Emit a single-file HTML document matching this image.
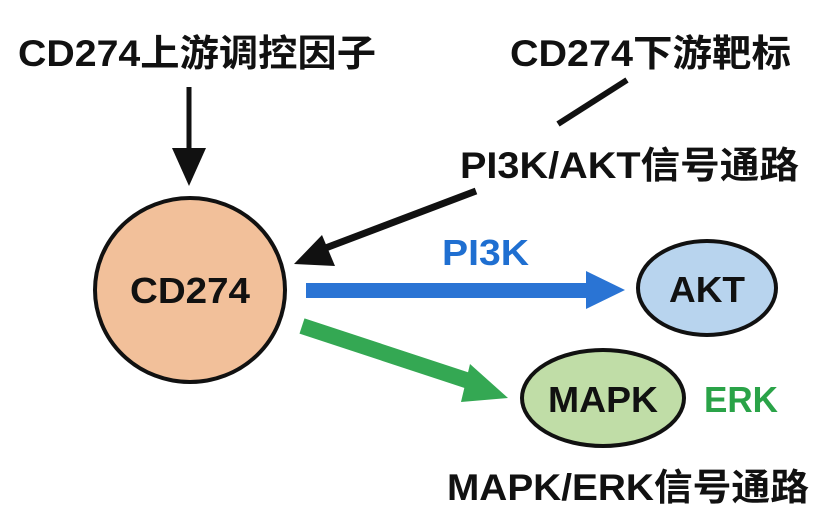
<!DOCTYPE html>
<html><head><meta charset="utf-8"><style>
html,body{margin:0;padding:0;background:#fff;}
svg{display:block;}
text{font-family:"Liberation Sans","Noto Sans CJK SC",sans-serif;font-weight:bold;}
</style></head><body>
<svg width="829" height="525" viewBox="0 0 829 525" xmlns="http://www.w3.org/2000/svg">
<rect width="829" height="525" fill="#fff"/>
<text x="18" y="66" font-size="37" textLength="358" lengthAdjust="spacingAndGlyphs" fill="#111">CD274上游调控因子</text>
<text x="510" y="66" font-size="37" textLength="281" lengthAdjust="spacingAndGlyphs" fill="#111">CD274下游靶标</text>
<line x1="627" y1="80" x2="558" y2="124" stroke="#111" stroke-width="6"/>
<text x="460" y="178" font-size="37" textLength="339" lengthAdjust="spacingAndGlyphs" fill="#111">PI3K/AKT信号通路</text>
<!-- down arrow -->
<line x1="189" y1="87" x2="189" y2="152" stroke="#111" stroke-width="5"/>
<polygon points="172,148 206,148 189,186" fill="#111"/>
<!-- diagonal black arrow -->
<line x1="476" y1="191" x2="315" y2="252" stroke="#111" stroke-width="7"/>
<polygon points="294,264 322,235 335,266" fill="#111"/>
<!-- CD274 -->
<ellipse cx="190" cy="290" rx="95" ry="92" fill="#f2c09a" stroke="#111" stroke-width="4"/>
<text x="190" y="303" font-size="36" text-anchor="middle" textLength="120" lengthAdjust="spacingAndGlyphs" fill="#111">CD274</text>
<!-- PI3K label -->
<text x="442" y="265" font-size="36" textLength="87" lengthAdjust="spacingAndGlyphs" fill="#1f6fd1">PI3K</text>
<!-- blue arrow -->
<rect x="306" y="283" width="284" height="15" fill="#2a74d4"/>
<polygon points="586,271 625,290 586,309" fill="#2a74d4"/>
<!-- AKT -->
<ellipse cx="707" cy="288" rx="69" ry="47" fill="#b8d4ee" stroke="#111" stroke-width="4"/>
<text x="707" y="302" font-size="36" text-anchor="middle" textLength="76" lengthAdjust="spacingAndGlyphs" fill="#111">AKT</text>
<!-- green arrow -->
<line x1="302" y1="326" x2="475" y2="383" stroke="#34a853" stroke-width="16"/>
<polygon points="470,364 508,398 461,402" fill="#34a853"/>
<!-- MAPK -->
<ellipse cx="603" cy="398" rx="81" ry="48" fill="#c0dda7" stroke="#111" stroke-width="4"/>
<text x="603" y="412" font-size="36" text-anchor="middle" textLength="110" lengthAdjust="spacingAndGlyphs" fill="#111">MAPK</text>
<text x="704" y="412" font-size="36" textLength="74" lengthAdjust="spacingAndGlyphs" fill="#2aa348">ERK</text>
<text x="447" y="500" font-size="37" textLength="362" lengthAdjust="spacingAndGlyphs" fill="#111">MAPK/ERK信号通路</text>
</svg>
</body></html>
